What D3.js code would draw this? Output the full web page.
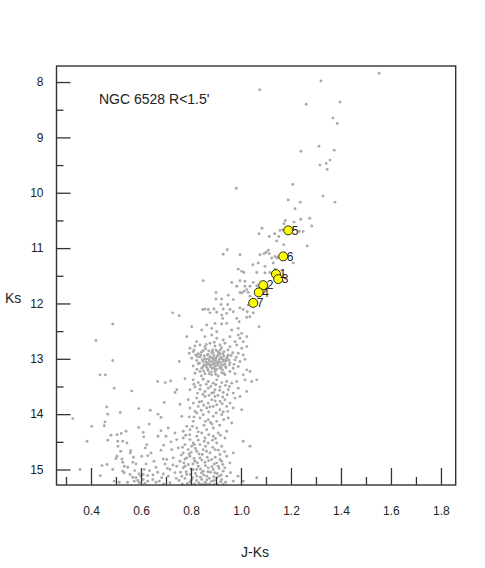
<!DOCTYPE html>
<html>
<head>
<meta charset="utf-8">
<script src="https://cdn.jsdelivr.net/npm/d3@7"></script>
<style>
  body { margin: 0; background: #fff; }
  text { font-family: "Liberation Sans Narrow", "Arial Narrow", "Liberation Sans", sans-serif; fill: #222; }
</style>
</head>
<body>
<div id="cmd"></div>
<script>
// field stars, [J-Ks, Ks], upper giant branch
const upperBranch = [
  [1.553,7.84],[1.32,7.98],[1.075,8.14],[1.261,8.40],[1.396,8.36],[1.368,8.65],[1.385,8.75],[1.24,9.25],
  [1.312,9.16],[1.373,9.23],[1.356,9.41],[1.341,9.47],[1.316,9.50],[1.345,9.58],[0.981,9.92],[1.207,9.85],
  [1.189,10.13],[1.237,10.17],[1.216,10.29],[1.328,10.06],[1.376,10.17],[1.275,10.46],[1.239,10.48],[1.212,10.53],
  [1.283,10.60],[1.177,10.50],[1.172,10.56],[1.084,10.64],[1.072,10.74],[1.113,10.79],[1.135,10.74],[1.151,10.79],
  [1.156,10.68],[1.167,10.67],[1.249,10.70],[1.233,10.70],[1.143,10.87],[1.171,10.94],[1.265,10.96],[1.209,11.27]
];

// field stars around the yellow ones
const midBranch = [
  [0.945,11.03],[0.929,11.11],[0.996,11.12],[1.076,11.12],[1.092,11.10],[1.100,11.08],[1.109,11.04],[1.113,11.10],
  [1.123,11.18],[1.136,11.15],[1.143,11.18],[1.149,11.16],[1.047,11.30],[1.069,11.27],[1.096,11.33],[1.129,11.27],
  [0.989,11.38],[1.003,11.42],[1.012,11.44],[1.063,11.44],[1.096,11.45],[1.116,11.44],[1.136,11.38],[0.849,11.59],
  [0.963,11.62],[0.996,11.59],[1.016,11.60],[1.049,11.62],[1.036,11.69],[1.063,11.68],[1.016,11.69],[0.983,11.69],
  [0.996,11.80],[1.003,11.81],[1.012,11.78],[1.023,11.75],[1.029,11.80],[1.036,11.87],[0.900,11.80],[0.900,11.92],
  [0.923,11.92],[0.949,11.85],[0.969,11.93],[0.920,12.02],[0.929,12.10],[0.947,12.02],[0.856,12.10],[0.869,12.11],
  [0.892,12.10],[0.903,12.16],[0.923,12.21],[0.943,12.18],[0.956,12.11],[0.969,12.15],[0.996,12.08],[1.009,12.11],
  [1.025,12.15],[1.036,12.24],[1.049,12.17],[1.029,12.03],[1.043,11.96],[0.727,12.17],[0.753,12.22],[0.847,12.11],
  [0.876,12.17],[0.927,12.27],[0.983,12.27],[1.023,12.25],
  [0.993,12.33],[1.072,12.42],[0.803,12.42],[0.843,12.48],[0.863,12.39],[0.896,12.36],[0.923,12.37],[0.943,12.36],
  [0.883,12.45],[0.903,12.51],[0.963,12.48],[0.989,12.45],[1.003,12.54],[1.023,12.60],[0.783,12.60],[0.823,12.69],
  [0.856,12.60],[0.883,12.57],[0.903,12.63],[0.929,12.66],[0.956,12.60],[0.976,12.69],[0.996,12.63],[1.009,12.69],
  [0.989,12.57]
];

// red clump region
const clump = [
  [0.796,12.81],[0.816,12.77],[0.836,12.75],[0.856,12.78],[0.876,12.72],[0.896,12.77],[0.916,12.75],[0.936,12.72],
  [0.956,12.78],[0.983,12.75],[1.003,12.81],[1.023,12.78],
  [0.793,12.90],[0.809,12.87],[0.829,12.91],[0.849,12.85],[0.865,12.93],[0.883,12.89],[0.90,12.84],[0.916,12.91],
  [0.932,12.87],[0.949,12.93],[0.967,12.89],[0.989,12.90],[1.009,12.93],
  [0.803,12.99],[0.823,13.03],[0.836,12.97],[0.849,13.05],[0.86,13.01],[0.869,13.07],[0.879,12.97],[0.889,13.03],
  [0.90,12.99],[0.909,13.07],[0.919,12.97],[0.929,13.04],[0.943,12.99],[0.956,13.07],[0.976,13.02],[0.996,13.05],
  [1.016,13.01],[0.753,13.05],
  [0.809,13.13],[0.829,13.09],[0.843,13.17],[0.852,13.11],[0.863,13.15],[0.873,13.10],[0.884,13.17],[0.896,13.13],
  [0.907,13.09],[0.916,13.17],[0.927,13.11],[0.94,13.16],[0.953,13.11],[0.969,13.17],[0.989,13.14],[1.023,13.20],
  [0.816,13.26],[0.836,13.23],[0.856,13.27],[0.869,13.21],[0.883,13.29],[0.896,13.23],[0.909,13.31],[0.923,13.25],
  [0.936,13.29],[0.956,13.23],[0.976,13.27],[1.009,13.29],[1.036,13.23],
  [0.853,12.95],[0.861,13.06],[0.868,12.92],[0.874,13.03],[0.879,13.12],[0.885,12.99],[0.891,12.93],[0.894,13.08],
  [0.898,13.02],[0.904,12.96],[0.911,13.05],[0.913,12.90],[0.918,13.13],[0.924,13.00],[0.931,12.95],[0.935,13.09],
  [0.871,12.86],[0.887,12.88],[0.902,13.19],[0.866,13.18],[0.846,13.02],[0.839,12.93],[0.881,13.24],[0.926,13.20],
  [0.941,13.04],[0.857,13.12],[0.892,13.17],[0.907,12.87],[0.876,12.96],[0.919,13.07],
  [0.812,12.84],[0.826,12.96],[0.834,13.08],[0.842,12.88],[0.848,13.14],[0.855,13.00],[0.859,12.82],[0.863,13.10],
  [0.870,13.00],[0.877,13.14],[0.882,13.06],[0.886,12.84],[0.889,13.10],[0.893,12.98],[0.897,13.21],[0.901,13.06],
  [0.906,13.12],[0.908,12.93],[0.914,13.01],[0.917,12.84],[0.921,13.16],[0.928,12.91],[0.933,13.02],[0.938,13.14],
  [0.946,12.96],[0.952,13.02],[0.961,12.94],[0.972,13.10],[0.981,12.97],[0.824,13.19],[0.851,13.22],[0.873,13.27],
  [0.899,13.28],[0.931,13.26],[0.861,12.74],[0.893,12.70],[0.922,12.80],[0.948,12.84],[0.819,12.93],[0.842,13.31]
];

// fainter sequence down to the bottom edge
const lowerPart = [
  [0.776,13.36],[0.809,13.38],[0.829,13.43],[0.849,13.37],[0.869,13.41],[0.889,13.44],[0.903,13.38],[0.923,13.43],
  [0.943,13.41],[0.963,13.44],[0.983,13.41],[1.016,13.38],[1.043,13.41],[1.063,13.38],[0.719,13.40],[0.743,13.56],
  [0.736,13.61],[0.796,13.56],[0.816,13.51],[0.836,13.55],[0.856,13.59],[0.869,13.53],[0.883,13.62],[0.896,13.56],
  [0.916,13.51],[0.929,13.61],[0.949,13.56],[0.969,13.62],[0.989,13.53],[0.996,13.68],[1.023,13.59],[0.756,13.82],
  [0.789,13.74],[0.823,13.71],[0.843,13.77],[0.856,13.68],[0.869,13.80],[0.883,13.74],[0.896,13.68],[0.903,13.83],
  [0.916,13.77],[0.936,13.74],[0.956,13.80],[0.976,13.71],[1.003,13.92],[0.796,13.89],[0.829,13.86],[0.863,13.89],
  [0.889,13.86],[0.916,13.92],[0.943,13.86],[0.969,13.89],
  [0.812,13.46],[0.838,13.48],[0.861,13.46],[0.879,13.50],[0.899,13.47],[0.915,13.57],[0.938,13.48],[0.954,13.50],
  [0.826,13.62],[0.848,13.64],[0.872,13.66],[0.891,13.61],[0.908,13.66],[0.927,13.69],[0.945,13.65],[0.809,13.80],
  [0.833,13.78],[0.851,13.84],[0.876,13.87],[0.897,13.76],[0.925,13.81],[0.947,13.95],[0.816,13.95],[0.841,13.93],
  [0.871,13.96],[0.901,13.98],[0.929,13.96],[0.793,14.05],[0.858,14.13],[0.884,14.18],[0.915,14.20],[0.931,14.10],
  [0.806,14.22],[0.829,14.32],[0.871,14.37],[0.898,14.44],[0.918,14.38],[0.779,14.38],[0.853,14.49],[0.829,14.47],
  [0.763,14.04],[0.823,13.98],[0.836,14.07],[0.849,14.01],[0.869,14.10],[0.889,14.04],[0.903,14.13],[0.923,14.01],
  [0.949,14.07],[0.963,14.16],[0.809,14.13],[0.783,14.22],[0.709,14.25],[0.736,14.34],[0.769,14.31],[0.796,14.28],
  [0.823,14.25],[0.843,14.34],[0.863,14.28],[0.889,14.25],[0.909,14.34],[0.943,14.31],[0.936,14.43],[0.889,14.40],
  [0.856,14.43],[0.823,14.40],[0.796,14.46],[0.769,14.43],[0.809,14.52],[0.836,14.55],[0.869,14.52],[0.903,14.52],
  [0.923,14.58],[1.036,14.58],[1.009,14.49],[0.743,14.46],
  [0.723,14.64],[0.749,14.61],[0.769,14.70],[0.789,14.64],[0.803,14.58],[0.823,14.67],[0.849,14.64],[0.876,14.70],
  [0.896,14.64],[0.916,14.73],[0.943,14.76],[0.969,14.70],[0.703,14.82],[0.729,14.79],[0.756,14.85],[0.776,14.81],
  [0.796,14.76],[0.816,14.85],[0.836,14.79],[0.856,14.87],[0.883,14.82],[0.903,14.88],[0.923,14.85],[0.956,14.88],
  [0.716,15.00],[0.743,14.94],[0.769,14.97],[0.789,14.91],[0.809,15.00],[0.829,14.94],[0.849,15.03],[0.869,14.97],
  [0.889,15.00],[0.909,14.94],[0.929,15.03],[0.709,15.12],[0.736,15.06],[0.763,15.12],[0.783,15.09],[0.803,15.18],
  [0.823,15.12],[0.843,15.18],[0.863,15.12],[0.883,15.21],[0.903,15.15],[0.923,15.18],[0.943,15.12],[0.969,15.21],
  [1.009,15.21],[1.063,15.15],
  [0.761,14.74],[0.772,14.88],[0.781,15.04],[0.792,14.72],[0.799,14.99],[0.806,15.15],[0.812,14.80],[0.818,15.07],
  [0.826,14.88],[0.831,15.24],[0.838,14.99],[0.845,14.73],[0.851,15.10],[0.858,14.93],[0.864,15.19],[0.871,14.84],
  [0.878,15.05],[0.884,14.95],[0.891,15.13],[0.897,14.78],[0.905,15.07],[0.912,14.98],[0.919,15.22],[0.927,14.91],
  [0.785,15.25],[0.815,15.26],[0.848,15.27],[0.875,15.26],[0.905,15.26],[0.752,15.20],[0.766,14.60],[0.813,14.55],
  [0.858,14.58],[0.886,14.47],[0.741,15.16],[0.728,14.92],[0.795,14.37],[0.852,14.20],[0.878,14.15],[0.812,14.05],
  [0.776,14.55],[0.801,14.69],[0.818,14.62],[0.832,14.72],[0.862,14.67],[0.887,14.60],[0.909,14.65],[0.934,14.68],
  [0.783,14.79],[0.808,14.90],[0.843,14.83],[0.865,14.78],[0.893,14.90],[0.916,14.82],[0.935,14.97],[0.776,14.94],
  [0.797,15.09],[0.823,15.00],[0.842,15.06],[0.868,15.04],[0.895,15.06],[0.921,15.10],[0.758,15.05],[0.776,15.16],
  [0.796,15.22],[0.822,15.20],[0.838,15.14],[0.856,15.23],[0.873,15.16],[0.893,15.20],[0.912,15.12],[0.938,15.23],
  [0.958,15.06],[0.988,15.12],[0.765,15.26],[0.802,15.27],[0.838,15.27],[0.862,15.26],[0.892,15.27],[0.928,15.27]
];

// blue side, left of the main sequence
const blueSide = [
  [0.487,12.37],[0.420,12.67],[0.487,13.03],[0.436,13.29],[0.457,13.29],[0.493,13.53],[0.563,13.58],[0.667,13.41],
  [0.697,13.43],[0.693,13.79],[0.463,13.87],[0.467,14.00],[0.517,13.97],[0.591,13.90],[0.637,13.93],[0.668,14.00],
  [0.68,14.06],[0.327,14.08],[0.403,14.22],[0.453,14.21],[0.456,14.14],[0.633,14.18],[0.591,14.24],[0.609,14.33],
  [0.54,14.31],[0.521,14.35],[0.504,14.37],[0.48,14.38],[0.467,14.47],[0.384,14.49],[0.507,14.49],[0.527,14.49],
  [0.544,14.52],[0.611,14.41],[0.668,14.40],[0.691,14.56],[0.623,14.55],[0.617,14.61],[0.508,14.58],[0.519,14.67],
  [0.559,14.66],[0.557,14.70],[0.603,14.76],[0.627,14.75],[0.504,14.76],[0.5,14.80],[0.524,14.81],[0.567,14.87],
  [0.58,14.90],[0.62,14.90],[0.66,14.96],[0.689,14.81],[0.696,14.90],[0.527,14.87],[0.533,14.94],[0.464,14.91],
  [0.444,14.93],[0.356,15.00],[0.437,15.11],[0.487,15.00],[0.527,15.03],[0.533,15.06],[0.493,15.21],[0.513,15.23],
  [0.567,15.14],[0.58,15.15],[0.587,15.20],[0.6,15.12],[0.609,15.18],[0.613,15.00],[0.609,15.09],[0.627,15.11],
  [0.573,15.21],[0.593,15.24],[0.627,15.21],[0.647,15.18],[0.66,15.23],[0.673,15.21],[0.689,15.08],
  [0.547,14.96],[0.556,15.09],[0.575,15.02],[0.592,15.08],[0.634,15.02],[0.648,15.10],[0.667,15.05],[0.683,15.15],
  [0.546,15.23],[0.615,15.25],[0.652,14.85],[0.57,14.78],[0.64,14.70],[0.68,14.65],[0.69,15.26],[0.716,15.24],
  [0.706,14.98],[0.72,14.50],[0.70,14.40],[0.68,14.30]
];

// marked stars
const starId = [1, 2, 3, 4, 5, 6, 7];
const starJK = [1.140, 1.089, 1.149, 1.071, 1.189, 1.169, 1.049];
const starKs = [11.47, 11.67, 11.56, 11.80, 10.68, 11.15, 11.99];

const xMajor = [0.4, 0.6, 0.8, 1.0, 1.2, 1.4, 1.6, 1.8];
const xMinor = [0.3, 0.5, 0.7, 0.9, 1.1, 1.3, 1.5, 1.7];
const yMajor = [8, 9, 10, 11, 12, 13, 14, 15];
const yMinor = [8.5, 9.5, 10.5, 11.5, 12.5, 13.5, 14.5];

(function(){
    const width = 485, height = 568;
    const margin = {top: 66, right: 29.3, bottom: 83, left: 56.5};
    const w = width - margin.left - margin.right;
    const h = height - margin.top - margin.bottom;

    let svg = d3.select("#cmd")
        .append("svg")
        .attr("width", width)
        .attr("height", height)
        .append("g")
        .attr("transform", `translate(${margin.left}, ${margin.top})`);

    let x = d3.scaleLinear().domain([0.262, 1.859]).range([0, w]);
    let y = d3.scaleLinear().domain([7.71, 15.28]).range([0, h]);

    svg.append("clipPath").attr("id", "clip")
        .append("rect").attr("width", w).attr("height", h);

    // grey field stars
    const field = upperBranch.concat(midBranch, clump, lowerPart, blueSide);
    svg.append("g")
        .attr("clip-path", "url(#clip)")
        .selectAll("circle")
        .data(field)
        .enter()
        .append("circle")
        .attr("cx", d => x(d[0]))
        .attr("cy", d => y(d[1]))
        .attr("r", 1.45)
        .style("fill", "#aaaaaa");

    // axes, ticks pointing inward
    svg.append("g")
        .attr("transform", `translate(0, ${h})`)
        .call(d3.axisBottom(x).tickValues(xMajor).tickSize(-17).tickSizeOuter(0)
            .tickPadding(21).tickFormat(d3.format(".1f")));
    svg.append("g")
        .attr("transform", `translate(0, ${h})`)
        .call(d3.axisBottom(x).tickValues(xMinor).tickSize(-8).tickSizeOuter(0).tickFormat(""));
    svg.append("g")
        .call(d3.axisLeft(y).tickValues(yMajor).tickSize(-14).tickSizeOuter(0).tickPadding(13));
    svg.append("g")
        .call(d3.axisLeft(y).tickValues(yMinor).tickSize(-7).tickSizeOuter(0).tickFormat(""));

    svg.selectAll(".domain").remove();
    svg.selectAll(".tick line").style("stroke", "#333").style("stroke-width", 1.3);
    svg.selectAll(".tick text").style("font-size", "12px").style("fill", "#222");

    svg.append("rect")
        .attr("width", w)
        .attr("height", h)
        .style("fill", "none")
        .style("stroke", "#333")
        .style("stroke-width", 1.4);

    // marked stars
    const stars = starId.map((id, i) => ({id: id, jk: starJK[i], ks: starKs[i]}));
    svg.selectAll(".star")
        .data(stars)
        .enter()
        .append("circle")
        .attr("class", "star")
        .attr("cx", d => x(d.jk))
        .attr("cy", d => y(d.ks))
        .attr("r", 4.5)
        .style("fill", "#ffff00")
        .style("stroke", "#111")
        .style("stroke-width", 0.9);
    svg.selectAll(".starlabel")
        .data(stars)
        .enter()
        .append("text")
        .attr("class", "starlabel")
        .attr("x", d => x(d.jk) + 3.5)
        .attr("y", d => y(d.ks) + 4.2)
        .style("font-size", "12px")
        .text(d => d.id);

    svg.append("text")
        .attr("x", 99 - margin.left)
        .attr("y", 103.5 - margin.top)
        .style("font-size", "14px")
        .text("NGC 6528 R<1.5'");

    // axis titles
    svg.append("text")
        .attr("x", 255 - margin.left)
        .attr("y", 557 - margin.top)
        .style("text-anchor", "middle")
        .style("font-size", "14px")
        .text("J-Ks");
    svg.append("text")
        .attr("x", 5 - margin.left)
        .attr("y", 303 - margin.top)
        .style("font-size", "14px")
        .text("Ks");
})();
</script>
</body>
</html>
